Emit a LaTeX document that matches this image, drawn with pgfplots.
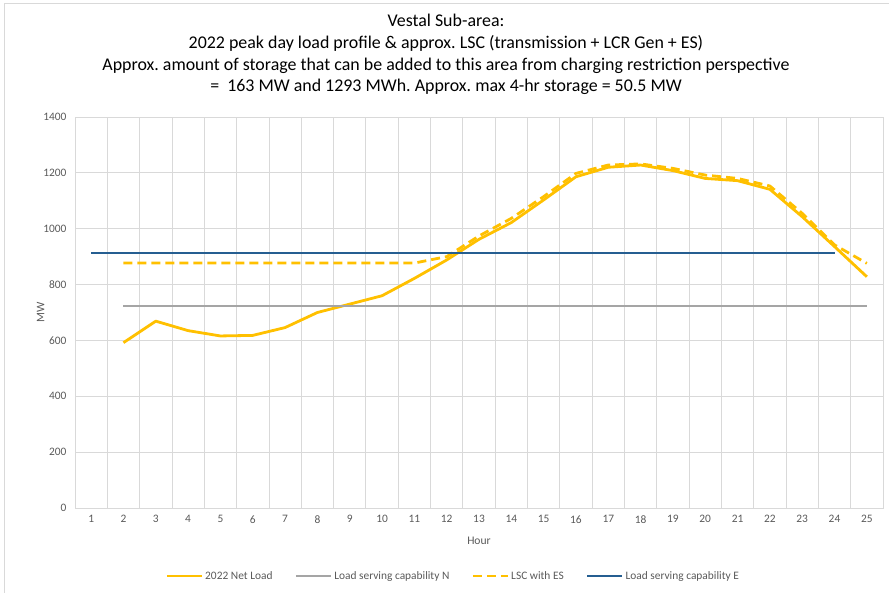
\documentclass[border=0pt]{standalone}
\usepackage{fontspec}
\setmainfont{Carlito}
\usepackage{pgfplots}
\pgfplotsset{compat=1.18}

\definecolor{netload}{HTML}{FFC000}
\definecolor{lscn}{HTML}{A5A5A5}
\definecolor{lsce}{HTML}{255E91}
\definecolor{gridc}{HTML}{D9D9D9}
\definecolor{textc}{HTML}{595959}

\begin{document}
\frenchspacing
\begin{tikzpicture}
\path[use as bounding box] (0,0) rectangle (889pt,593pt);
% chart area border (only top and left visible in the crop)
\draw[gridc, line width=0.8pt] (4.5pt,0) -- (4.5pt,589.5pt) -- (889pt,589.5pt);

\node[align=center, font=\fontsize{17.9}{21.7}\selectfont, inner sep=0pt]
  at (446pt,538.5pt)
  {Vestal Sub-area:\\
   2022 peak day load profile \& approx. LSC (transmission + LCR Gen + ES)\\
   Approx. amount of storage that can be added to this area from charging restriction perspective\\
   = \ 163 MW and 1293 MWh. Approx. max 4-hr storage = 50.5 MW};

\begin{axis}[
    at={(75pt,85pt)}, anchor=south west,
    scale only axis,
    width=808pt, height=391pt,
    xmin=0.5, xmax=25.5,
    ymin=0, ymax=1400,
    xtick={1,...,25},
    ytick={0,200,...,1400},
    minor xtick={0.5,1.5,...,25.5},
    xminorgrids=true, ymajorgrids=true,
    xmajorgrids=false,
    grid style={gridc, line width=0.8pt},
    minor grid style={gridc, line width=0.8pt},
    axis line style={gridc, line width=0.8pt},
    major tick length=0pt, minor tick length=0pt,
    /pgf/number format/assume math mode=true,
    /pgf/number format/1000 sep={},
    tick label style={font=\fontsize{11.4}{13}\selectfont, text=textc},
    xticklabel style={yshift=-4pt},
    yticklabel style={xshift=-5pt},
    xlabel={Hour},
    ylabel={MW},
    label style={font=\fontsize{11.6}{13}\selectfont, text=textc},
    xlabel style={yshift=-7pt},
    ylabel style={yshift=-8pt},
    legend columns=4,
    legend style={
        at={(0.468,-0.174)}, anchor=center,
        draw=none, fill=none,
        font=\fontsize{11.4}{13}\selectfont, text=textc,
        /tikz/every odd column/.append style={column sep=0pt},
        /tikz/every even column/.append style={column sep=20pt},
    },
    legend image code/.code={\draw[#1] (0pt,0pt) -- (35pt,0pt);},
    every axis plot/.append style={line width=2.8pt, line join=round},
]

\addplot[netload] coordinates {
    (2,592) (3,669) (4,635) (5,616) (6,618) (7,646) (8,700) (9,730)
    (10,760) (11,822) (12,888) (13,962) (14,1022) (15,1103) (16,1186)
    (17,1220) (18,1228) (19,1208) (20,1180) (21,1172) (22,1141)
    (23,1043) (24,936) (25,828)
};
\addlegendentry{2022 Net Load}

\addplot[lscn] coordinates {(2,723) (25,723)};
\addlegendentry{Load serving capability N}

\addplot[netload, dash pattern=on 9pt off 5pt] coordinates {
    (2,877) (3,877) (4,877) (5,877) (6,877) (7,877) (8,877) (9,877)
    (10,877) (11,877) (12,900) (13,974) (14,1037) (15,1115) (16,1198)
    (17,1228) (18,1232) (19,1216) (20,1192) (21,1180) (22,1153)
    (23,1055) (24,942) (25,876)
};
\addlegendentry{LSC with ES}

\addplot[lsce] coordinates {(1,913) (24,913)};
\addlegendentry{Load serving capability E}

\end{axis}
\end{tikzpicture}
\end{document}
